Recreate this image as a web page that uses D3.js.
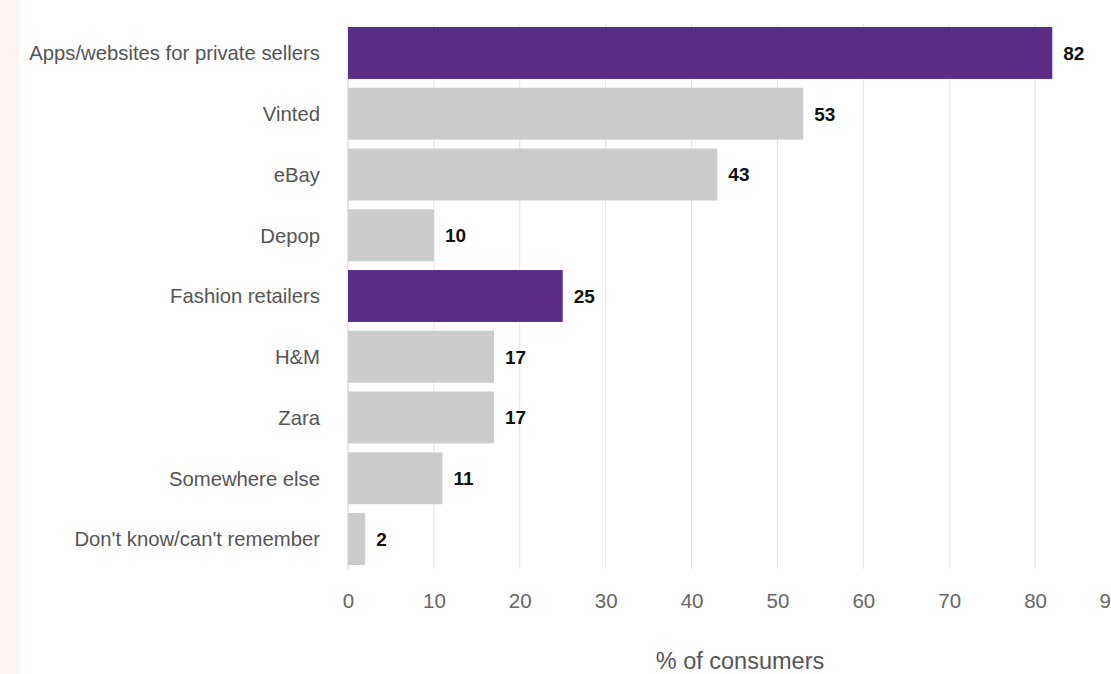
<!DOCTYPE html>
<html><head><meta charset="utf-8">
<script src="https://cdn.jsdelivr.net/npm/d3@7"></script>
<style>
html,body{margin:0;padding:0;background:#fff;overflow:hidden;}
svg{display:block;font-family:"Liberation Sans",Arial,Helvetica,sans-serif;}
</style></head>
<body>
<svg id="chart" width="1111" height="674"></svg>
<script>
const categories = ["Apps/websites for private sellers","Vinted","eBay","Depop","Fashion retailers","H&M","Zara","Somewhere else","Don't know/can't remember"];
const values = [82,53,43,10,25,17,17,11,2];
const highlighted = [true,false,false,false,true,false,false,false,false];
const tickValues = [0,10,20,30,40,50,60,70,80,90];
const axisTitle = "% of consumers";

const svg = d3.select("#chart");
svg.append("rect").attr("x",0).attr("y",0).attr("width",19).attr("height",674).attr("fill","#fff3f3");

const x = d3.scaleLinear().domain([0,90]).range([348,1121]);
const y = d3.scaleBand().domain(categories).range([27,565]).paddingInner(0.145).paddingOuter(0);

// gridlines
svg.append("g").selectAll("line").data(tickValues).join("line")
  .attr("x1",d=>x(d)).attr("x2",d=>x(d)).attr("y1",24).attr("y2",569)
  .attr("stroke",d=>d===0?"#cfcfcf":"#e3e3e3").attr("stroke-width",1);

// bars
svg.append("g").selectAll("rect").data(categories).join("rect")
  .attr("x",x(0)).attr("y",d=>y(d))
  .attr("width",(d,i)=>x(values[i])-x(0)).attr("height",y.bandwidth())
  .attr("fill",(d,i)=>highlighted[i]?"#5c2d87":"#cccccc");

// value labels
svg.append("g").selectAll("text").data(categories).join("text")
  .attr("x",(d,i)=>x(values[i])+11).attr("y",d=>y(d)+y.bandwidth()/2)
  .attr("dy","0.36em").attr("font-size",19).attr("font-weight","bold").attr("fill","#111")
  .text((d,i)=>values[i]);

// category labels
const yAxis = svg.append("g").attr("transform",`translate(${x(0)},0)`)
  .call(d3.axisLeft(y).tickSize(0).tickPadding(28));
yAxis.select(".domain").remove();
yAxis.selectAll("text").attr("font-size",20.3).attr("fill","#555").attr("dy","0.36em")
  .attr("font-family","Liberation Sans, Arial, sans-serif");

// x axis
const xAxis = svg.append("g").attr("transform","translate(0,569)")
  .call(d3.axisBottom(x).tickValues(tickValues).tickSize(0).tickPadding(24));
xAxis.select(".domain").remove();
xAxis.selectAll("text").attr("font-size",20.5).attr("fill","#666")
  .attr("font-family","Liberation Sans, Arial, sans-serif");
// last tick label is pulled inside the plot edge as in the reference
xAxis.selectAll(".tick").filter(d=>d===90).attr("transform",`translate(${x(90)-10},0)`);

svg.append("text").attr("x",740).attr("y",669).attr("text-anchor","middle")
  .attr("font-size",23.5).attr("fill","#555").text(axisTitle);
</script>
</body></html>
